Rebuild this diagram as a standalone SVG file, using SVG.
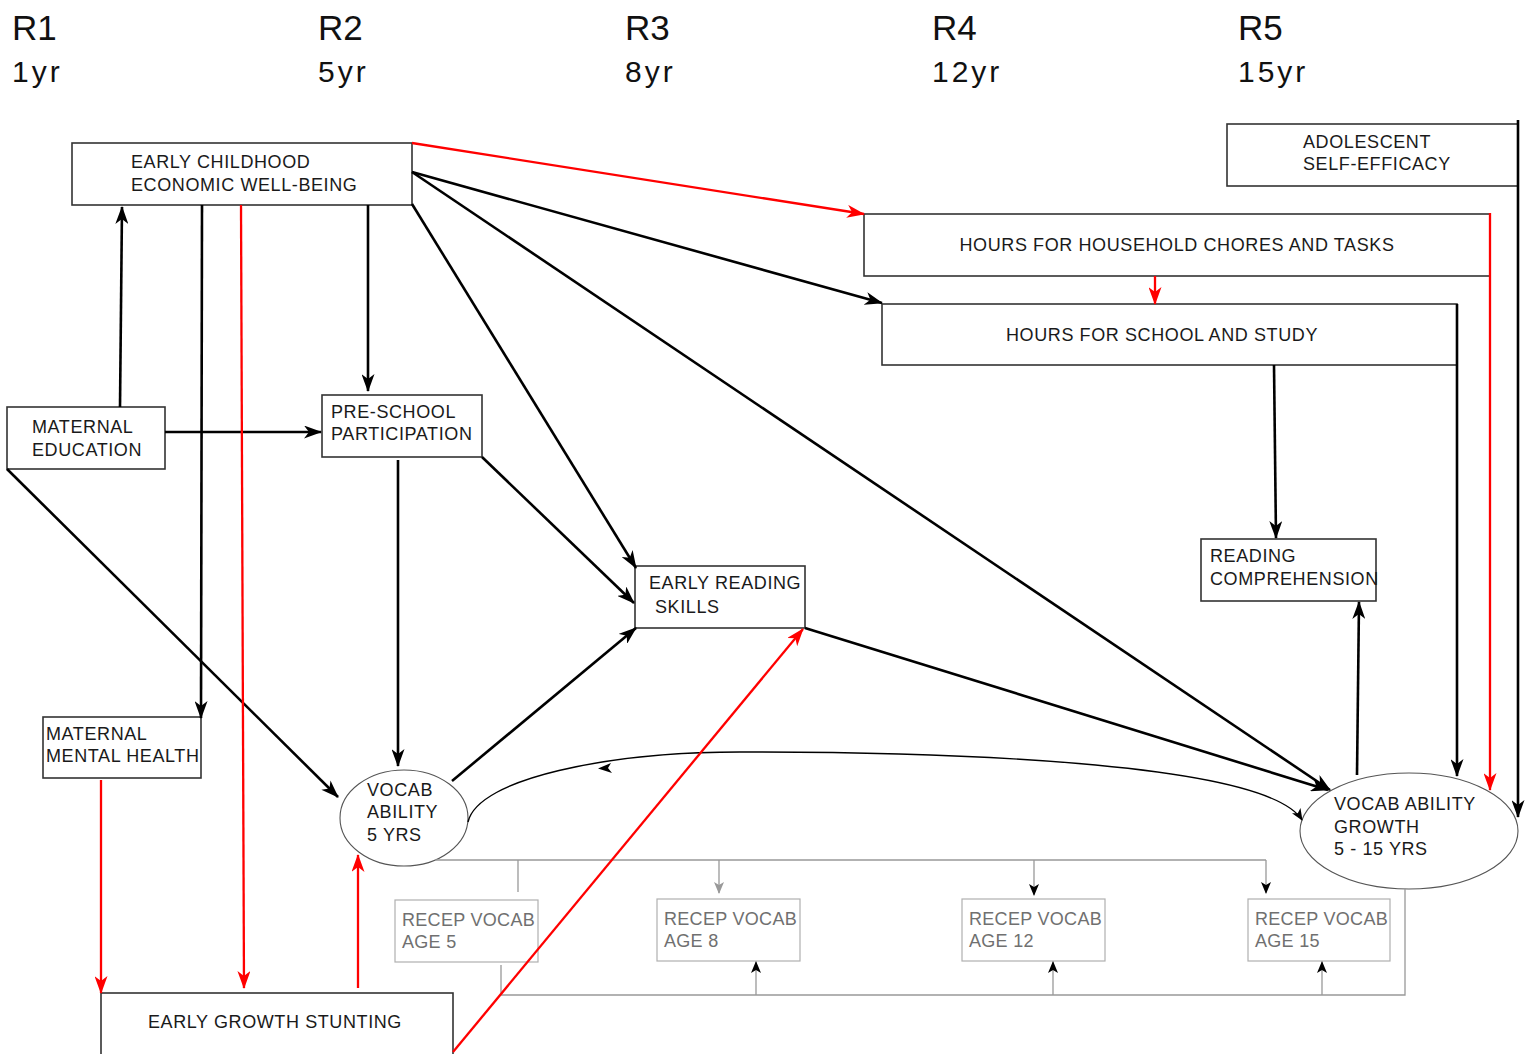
<svg xmlns="http://www.w3.org/2000/svg" width="1525" height="1054" viewBox="0 0 1525 1054">
  <style>
    .bg { fill: #ffffff; }
    .box { fill: #ffffff; stroke: #333333; stroke-width: 1.6; }
    .gbox { fill: #ffffff; stroke: #b0b0b0; stroke-width: 1.2; }
    .oval { fill: #ffffff; stroke: #555555; stroke-width: 1.1; }
    .t { font-family: "Liberation Sans", Arial, sans-serif; font-size: 18px; fill: #1a1a1a; letter-spacing: 0.6px; }
    .gt { font-family: "Liberation Sans", Arial, sans-serif; font-size: 18px; fill: #707070; letter-spacing: 0.3px; }
    .hdr { font-family: "Liberation Sans", Arial, sans-serif; font-size: 35px; fill: #111111; }
    .age { font-family: "Liberation Sans", Arial, sans-serif; font-size: 30px; fill: #111111; letter-spacing: 3px; }
    .blk { fill: none; stroke: #000000; stroke-width: 2.6; marker-end: url(#ah); }
    .red { fill: none; stroke: #ff0000; stroke-width: 2.3; marker-end: url(#ahr); }
    .thin { fill: none; stroke: #000000; stroke-width: 1.4; }
    .gl { fill: none; stroke: #999999; stroke-width: 1.3; }
  </style>
  <defs>
    <marker id="ah" viewBox="0 0 18 13" refX="17" refY="6.5" markerWidth="18" markerHeight="13" orient="auto" markerUnits="userSpaceOnUse">
      <path d="M0,0 L18,6.5 L0,13 L5,6.5 z" fill="#000000"/>
    </marker>
    <marker id="ahr" viewBox="0 0 18 13" refX="17" refY="6.5" markerWidth="18" markerHeight="13" orient="auto" markerUnits="userSpaceOnUse">
      <path d="M0,0 L18,6.5 L0,13 L5,6.5 z" fill="#ff0000"/>
    </marker>
    <marker id="ahs" viewBox="0 0 12 10" refX="11" refY="5" markerWidth="12" markerHeight="10" orient="auto" markerUnits="userSpaceOnUse">
      <path d="M0,0 L12,5 L0,10 L3,5 z" fill="#000000"/>
    </marker>
    <marker id="ahsr" viewBox="0 0 10 8" refX="9" refY="4" markerWidth="10" markerHeight="8" orient="auto" markerUnits="userSpaceOnUse">
      <path d="M0,0 L10,4 L0,8 L3,4 z" fill="#ff0000"/>
    </marker>
    <marker id="ahg" viewBox="0 0 12 10" refX="11" refY="5" markerWidth="12" markerHeight="10" orient="auto" markerUnits="userSpaceOnUse">
      <path d="M0,0 L12,5 L0,10 L3,5 z" fill="#999999"/>
    </marker>
  </defs>

  <rect class="bg" x="0" y="0" width="1525" height="1054"/>

  <!-- wave headings -->
  <g id="headings">
    <text class="hdr" x="12" y="40">R1</text>
    <text class="age" x="12" y="82">1yr</text>
    <text class="hdr" x="318" y="40">R2</text>
    <text class="age" x="318" y="82">5yr</text>
    <text class="hdr" x="625" y="40">R3</text>
    <text class="age" x="625" y="82">8yr</text>
    <text class="hdr" x="932" y="40">R4</text>
    <text class="age" x="932" y="82">12yr</text>
    <text class="hdr" x="1238" y="40">R5</text>
    <text class="age" x="1238" y="82">15yr</text>
  </g>

  <!-- nodes -->
  <g id="early-childhood">
    <rect class="box" x="72" y="143" width="340" height="62"/>
    <text class="t" x="131" y="168">EARLY CHILDHOOD</text>
    <text class="t" x="131" y="191">ECONOMIC WELL-BEING</text>
  </g>
  <g id="adolescent-self-efficacy">
    <rect class="box" x="1227" y="124" width="291" height="62"/>
    <text class="t" x="1303" y="148">ADOLESCENT</text>
    <text class="t" x="1303" y="170">SELF-EFFICACY</text>
  </g>
  <g id="hours-chores">
    <rect class="box" x="864" y="214" width="626" height="62"/>
    <text class="t" x="1177" y="251" text-anchor="middle">HOURS FOR HOUSEHOLD CHORES AND TASKS</text>
  </g>
  <g id="hours-school">
    <rect class="box" x="882" y="304" width="575" height="61"/>
    <text class="t" x="1162" y="341" text-anchor="middle">HOURS FOR SCHOOL AND STUDY</text>
  </g>
  <g id="maternal-education">
    <rect class="box" x="7" y="407" width="158" height="62"/>
    <text class="t" x="32" y="433">MATERNAL</text>
    <text class="t" x="32" y="456">EDUCATION</text>
  </g>
  <g id="preschool">
    <rect class="box" x="322" y="395" width="160" height="62"/>
    <text class="t" x="331" y="418">PRE-SCHOOL</text>
    <text class="t" x="331" y="440">PARTICIPATION</text>
  </g>
  <g id="early-reading">
    <rect class="box" x="635" y="566" width="170" height="62"/>
    <text class="t" x="649" y="589">EARLY READING</text>
    <text class="t" x="655" y="613">SKILLS</text>
  </g>
  <g id="reading-comprehension">
    <rect class="box" x="1201" y="539" width="175" height="62"/>
    <text class="t" x="1210" y="562">READING</text>
    <text class="t" x="1210" y="585">COMPREHENSION</text>
  </g>
  <g id="maternal-mental-health">
    <rect class="box" x="43" y="717" width="158" height="61"/>
    <text class="t" x="46" y="740">MATERNAL</text>
    <text class="t" x="46" y="762">MENTAL HEALTH</text>
  </g>
  <g id="early-growth-stunting">
    <rect class="box" x="101" y="993" width="352" height="80"/>
    <text class="t" x="148" y="1028">EARLY GROWTH STUNTING</text>
  </g>
  <g id="vocab-5">
    <ellipse class="oval" cx="404" cy="818" rx="64" ry="48"/>
    <text class="t" x="367" y="796">VOCAB</text>
    <text class="t" x="367" y="818">ABILITY</text>
    <text class="t" x="367" y="841">5 YRS</text>
  </g>
  <g id="vocab-growth">
    <ellipse class="oval" cx="1409" cy="831" rx="109" ry="58"/>
    <text class="t" x="1334" y="810">VOCAB ABILITY</text>
    <text class="t" x="1334" y="833">GROWTH</text>
    <text class="t" x="1334" y="855">5 - 15 YRS</text>
  </g>
  <g id="recep-5">
    <rect class="gbox" x="395" y="900" width="143" height="62"/>
    <text class="gt" x="402" y="926">RECEP VOCAB</text>
    <text class="gt" x="402" y="948">AGE 5</text>
  </g>
  <g id="recep-8">
    <rect class="gbox" x="657" y="899" width="143" height="62"/>
    <text class="gt" x="664" y="925">RECEP VOCAB</text>
    <text class="gt" x="664" y="947">AGE 8</text>
  </g>
  <g id="recep-12">
    <rect class="gbox" x="962" y="899" width="143" height="62"/>
    <text class="gt" x="969" y="925">RECEP VOCAB</text>
    <text class="gt" x="969" y="947">AGE 12</text>
  </g>
  <g id="recep-15">
    <rect class="gbox" x="1248" y="899" width="142" height="62"/>
    <text class="gt" x="1255" y="925">RECEP VOCAB</text>
    <text class="gt" x="1255" y="947">AGE 15</text>
  </g>

  <!-- connectors -->
  <g id="connectors">
    <!-- measurement model (grey) -->
    <path class="gl" d="M435,860 H1266"/>
    <path class="gl" d="M518,860 V892"/>
    <path class="gl" d="M719,860 V893" marker-end="url(#ahg)"/>
    <path class="gl" d="M1034,860 V895" stroke="#555" marker-end="url(#ahs)"/>
    <path class="gl" d="M1266,860 V893" stroke="#555" marker-end="url(#ahs)"/>
    <path class="gl" d="M1405,888 V995 H501 V965"/>
    <path class="gl" d="M756,995 V962" marker-end="url(#ahs)"/>
    <path class="gl" d="M1053,995 V962" marker-end="url(#ahs)"/>
    <path class="gl" d="M1322,995 V962" marker-end="url(#ahs)"/>

    <!-- black structural paths -->
    <path class="blk" d="M120,407 L122,207"/>
    <path class="blk" d="M202,205 L201,718"/>
    <path class="blk" d="M368,205 V391"/>
    <path class="blk" d="M412,204 L636,568"/>
    <path class="blk" d="M412,172 L1330,790"/>
    <path class="blk" d="M412,172 L882,303"/>
    <path class="blk" d="M165,432 H321"/>
    <path class="blk" d="M7,469 L338,797"/>
    <path class="blk" d="M398,460 L398,766"/>
    <path class="blk" d="M482,457 L634,603"/>
    <path class="blk" d="M452,781 L636,628"/>
    <path class="blk" d="M805,628 L1328,790"/>
    <path class="blk" d="M1274,365 L1276,538"/>
    <path class="blk" d="M1357,775 L1359,602"/>
    <path class="blk" d="M1457,304 V776"/>
    <path class="blk" d="M1518,120 V817" stroke-width="3"/>

    <!-- reciprocal vocab path -->
    <path class="thin" d="M468,822 C478,778 610,752 740,752 C930,752 1265,760 1302,820" marker-end="url(#ahs)"/>
    <path d="M598,768.5 L611,763 L608,768 L612,773 z" fill="#000000"/>

    <!-- red paths -->
    <path class="red" d="M412,143 L864,214"/>
    <path class="red" d="M1490,213 V790"/>
    <path class="red" d="M1155,276 V304" stroke-width="1.3" marker-end="url(#ahsr)"/>
    <path class="red" d="M241,205 L244,988"/>
    <path class="red" d="M101,780 V993"/>
    <path class="red" d="M358,988 V855"/>
    <path class="red" d="M453,1052 L803,629"/>
  </g>
</svg>
